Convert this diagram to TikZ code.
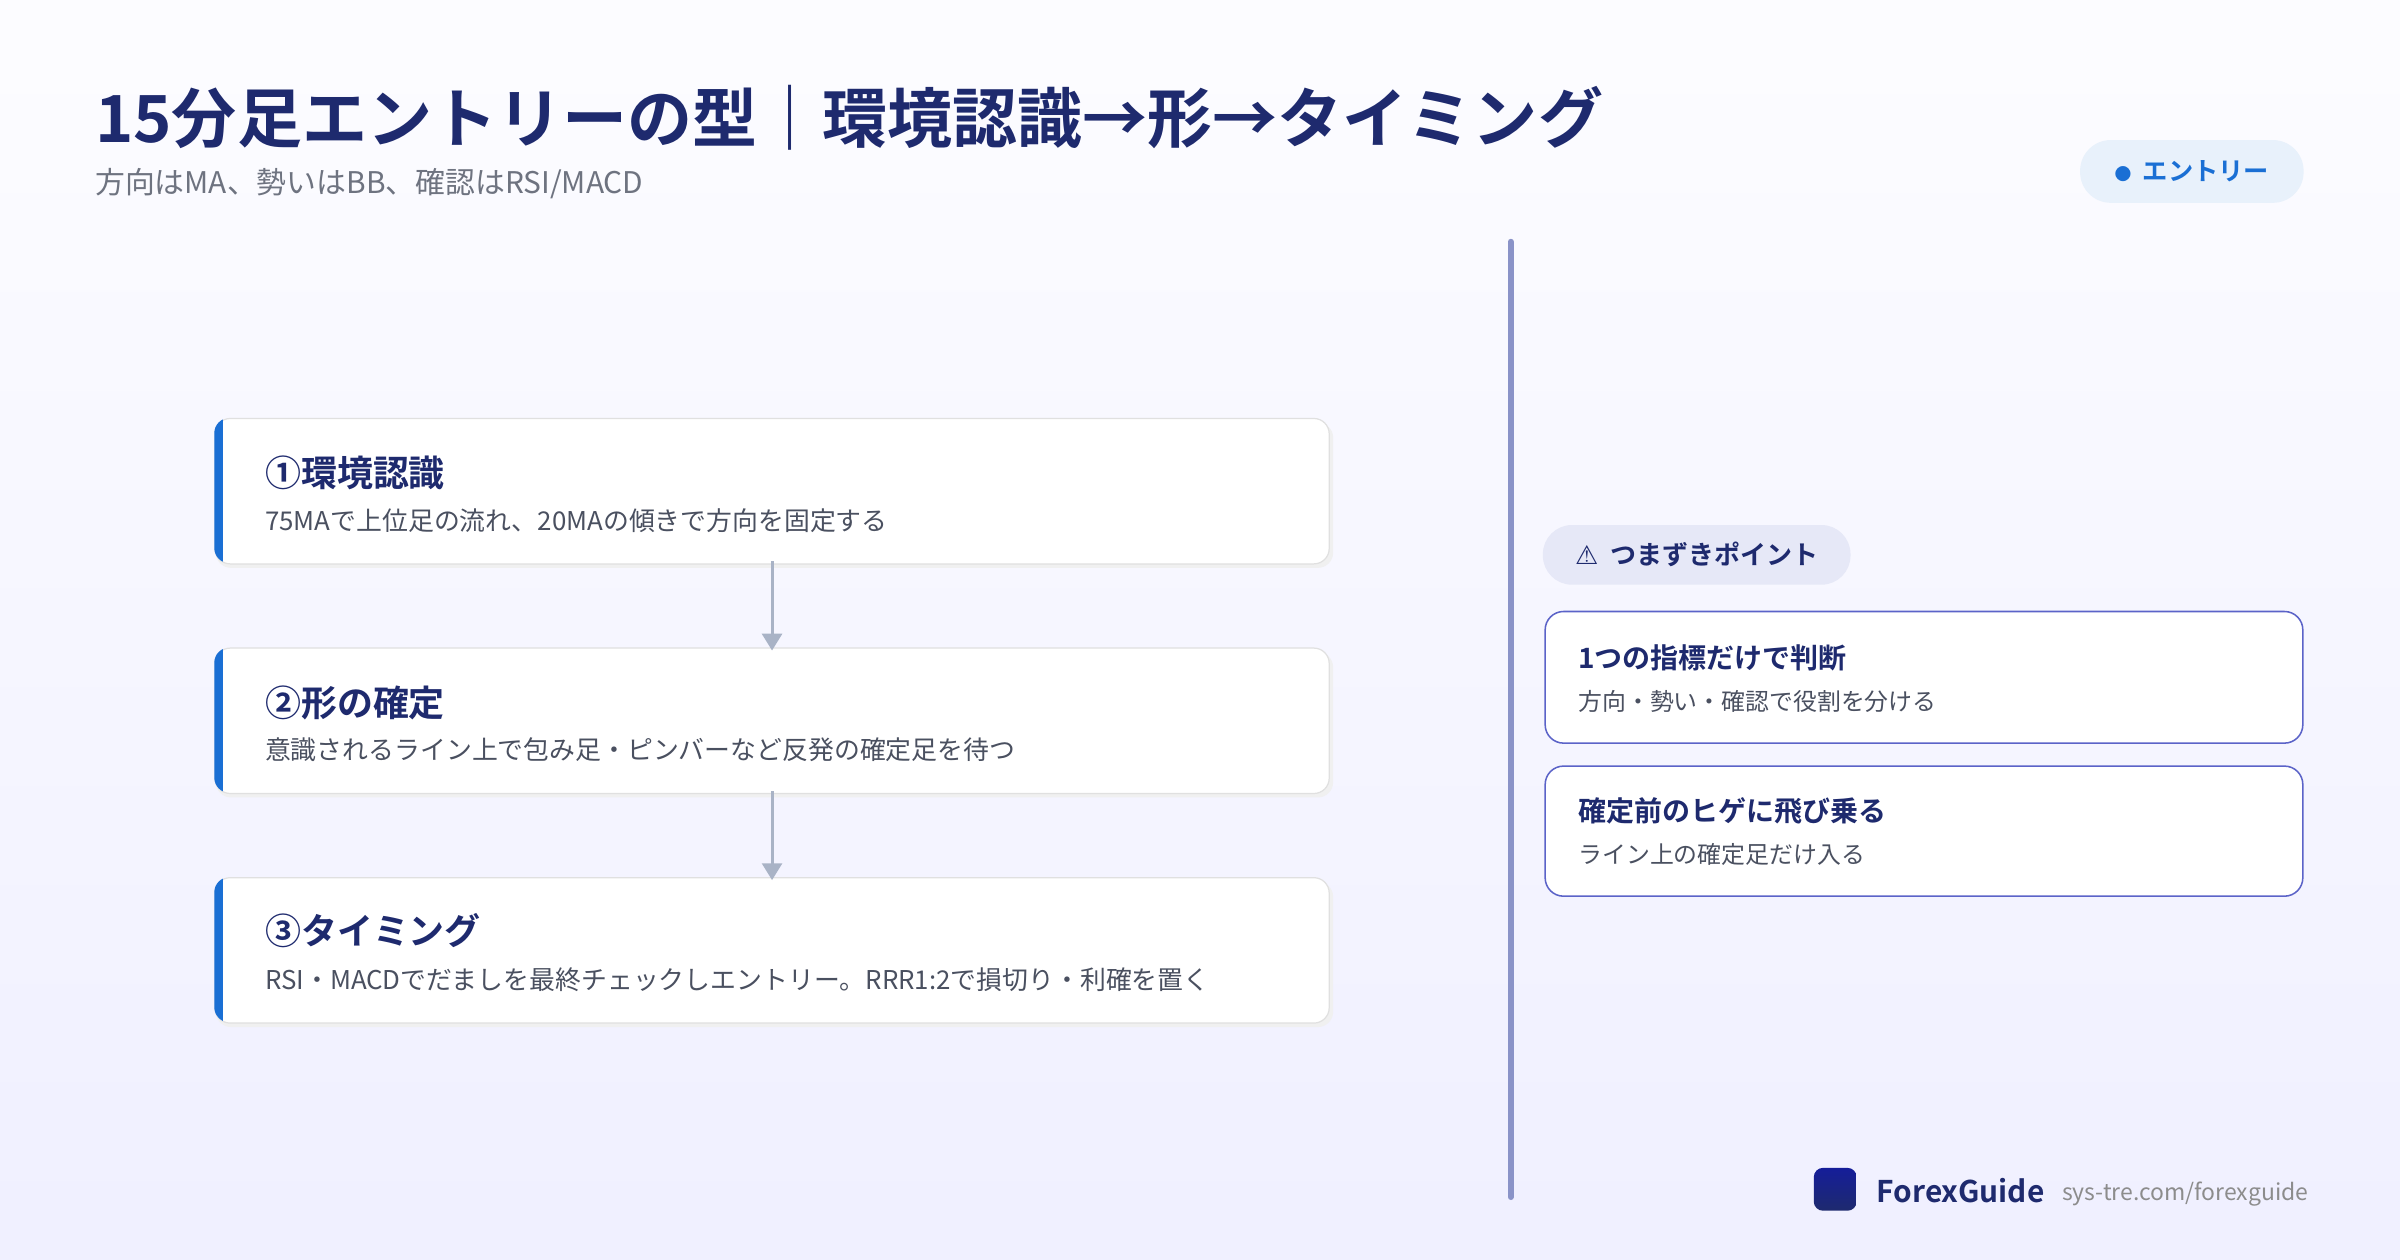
\documentclass[tikz,border=0pt]{standalone}
\usepackage{fontspec}
\setmainfont{Noto Sans CJK JP}
\newfontfamily\jpb{Noto Sans CJK JP Bold}
\newfontfamily\dv{DejaVu Sans}
\usetikzlibrary{arrows.meta}
\definecolor{navy}{HTML}{1E2A6E}
\definecolor{txtgray}{HTML}{4A5060}
\definecolor{barblue}{HTML}{1A6FD4}
\definecolor{vline}{HTML}{8A93C8}
\definecolor{indigo}{HTML}{5B63C8}
\definecolor{arr}{HTML}{A9B3C6}
\tikzset{
 card/.style={draw=black!12,fill=white,rounded corners=10pt,line width=0.8pt},
 ctitle/.style={anchor=west,text=navy,font=\jpb\fontsize{23.5}{26}\selectfont,inner sep=0},
 cdesc/.style={anchor=west,text=txtgray,font=\fontsize{16.9}{19}\selectfont,inner sep=0},
 rcard/.style={draw=indigo,fill=white,rounded corners=12pt,line width=1pt},
 rtitle/.style={anchor=west,text=navy,font=\jpb\fontsize{18.3}{21}\selectfont,inner sep=0},
 rdesc/.style={anchor=west,text=txtgray,font=\fontsize{15.6}{18}\selectfont,inner sep=0},
 flow/.style={draw=arr,line width=2pt,-{Triangle[length=11pt,width=13pt]}},
}
\begin{document}
\begin{tikzpicture}[x=1pt,y=-1pt]
\shade[top color=white!50!blue!2!white,bottom color=blue!6!white] (0,0) rectangle (1568,823);
\useasboundingbox (0,0) rectangle (1568,823);
% title
\node[anchor=west,inner sep=0,text=navy,font=\jpb\fontsize{42.5}{46}\selectfont] (title) at (62,77) {15分足エントリーの型｜環境認識→形→タイミング};
\node[anchor=west,inner sep=0,text=txtgray!80,font=\fontsize{19.5}{22}\selectfont] (sub) at (62,120) {方向はMA、勢いはBB、確認はRSI/MACD};
% badge
\node[fill=barblue!10,rounded corners=20pt,minimum width=146pt,minimum height=41pt,text=barblue,font=\jpb\fontsize{16.5}{18}\selectfont] (badge) at (1432,112) {{\fontsize{11}{12}\selectfont ●}\ \ エントリー};
% divider
\draw[vline,line width=4pt,line cap=round] (987,158) coordinate (v1) -- (987,782) coordinate (v2);
% cards
\foreach \y/\n in {273/a,423/b,573/c}{
 \fill[black!6,rounded corners=10pt] (141,\y+3) rectangle (871,\y+98);
 \node[card,anchor=north west,minimum width=728pt,minimum height=95pt] (\n) at (140,\y) {};
 \begin{scope}
 \clip[rounded corners=10pt] (140,\y) rectangle (868,\y+95);
 \fill[barblue] (140,\y) rectangle (146,\y+95);
 \end{scope}
}
\node[ctitle] (at) at (173,309) {①環境認識};
\node[cdesc] (ad) at (173,340) {75MAで上位足の流れ、20MAの傾きで方向を固定する};
\node[ctitle] (bt) at (173,459) {②形の確定};
\node[cdesc] (bd) at (173,490) {意識されるライン上で包み足・ピンバーなど反発の確定足を待つ};
\node[ctitle] (ct) at (173,608) {③タイミング};
\node[cdesc] (cd) at (173,640) {RSI・MACDでだましを最終チェックしエントリー。RRR1:2で損切り・利確を置く};
\draw[flow] ([yshift=2pt]a.south) -- ([yshift=-2pt]b.north);
\draw[flow] ([yshift=2pt]b.south) -- ([yshift=-2pt]c.north);
% right
\node[fill=indigo!15,rounded corners=19pt,minimum width=201pt,minimum height=39pt,text=navy,font=\jpb\fontsize{17}{19}\selectfont] (pill) at (1108.5,362.5) {{\dv\bfseries\fontsize{17}{18}\selectfont ⚠}\ \ つまずきポイント};
\node[rcard,anchor=north west,minimum width=495pt,minimum height=86pt] (r1) at (1009,399) {};
\node[rcard,anchor=north west,minimum width=495pt,minimum height=85pt] (r2) at (1009,500) {};
\node[rtitle] at (1031,430) {1つの指標だけで判断};
\node[rdesc] at (1031,458) {方向・勢い・確認で役割を分ける};
\node[rtitle] at (1031,530) {確定前のヒゲに飛び乗る};
\node[rdesc] at (1031,558) {ライン上の確定足だけ入る};
% footer
\shade[top color=navy!70!blue,bottom color=navy,rounded corners=6pt] (1185,763) rectangle (1213,791);
\node[anchor=west,inner sep=0,text=navy,font=\jpb\fontsize{19.5}{22}\selectfont] (fg) at (1226,778) {ForexGuide};
\node[anchor=west,inner sep=0,text=black!45,font=\fontsize{15}{18}\selectfont] (url) at (1347,780) {sys-tre.com/forexguide};
\end{tikzpicture}
\end{document}
